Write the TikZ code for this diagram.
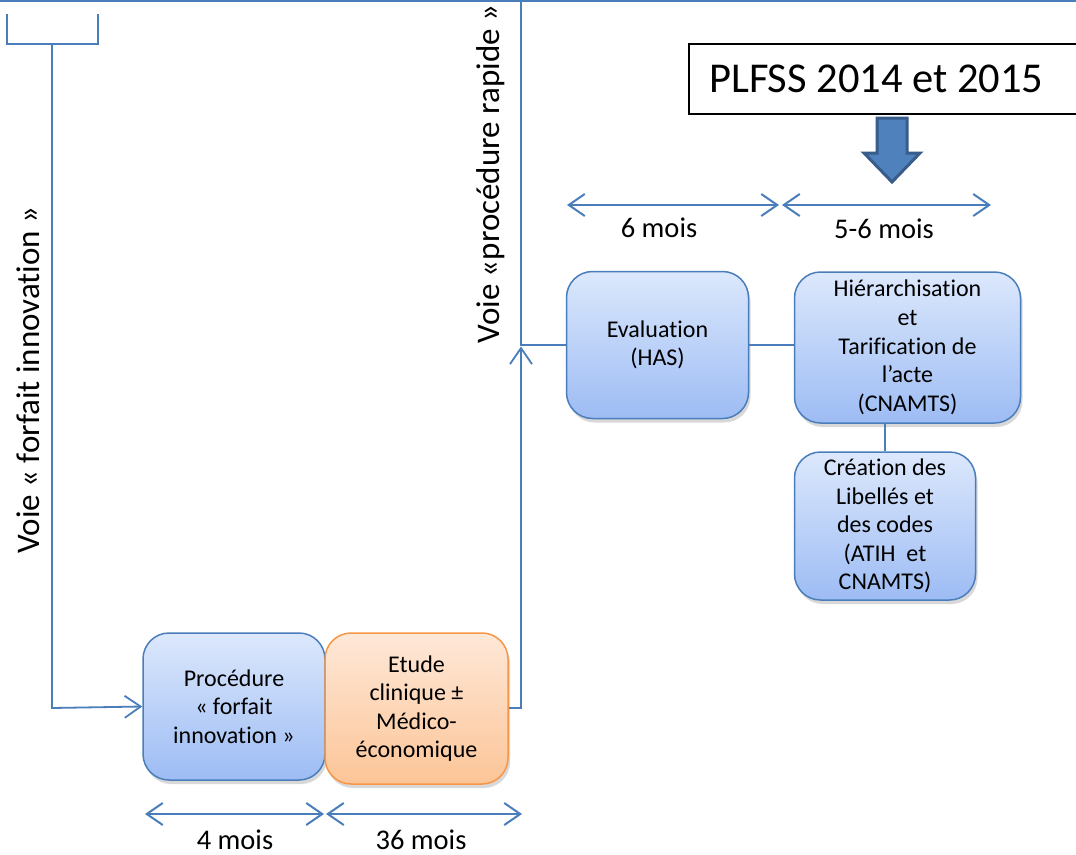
\documentclass[tikz,border=0pt]{standalone}
\usepackage{fontspec}
\setmainfont{Carlito}[Ligatures=NoCommon]
\usetikzlibrary{arrows.meta,shadows}
\definecolor{lineblue}{HTML}{4A7EBB}
\definecolor{boxtop}{HTML}{DCE8FC}
\definecolor{boxbot}{HTML}{9DBCF4}
\definecolor{orgtop}{HTML}{FEE8D8}
\definecolor{orgbot}{HTML}{FCC597}
\definecolor{orgline}{HTML}{F79646}
\definecolor{arrowfill}{HTML}{4F81BD}
\definecolor{arrowline}{HTML}{385D8A}
\tikzset{
  roundbox/.style={line width=1.5pt, rounded corners=26pt, align=center,
    font=\fontsize{24}{28.6}\selectfont, inner sep=0pt,
    drop shadow={opacity=0.3, shadow xshift=2pt, shadow yshift=-4pt}},
  bluebox/.style={roundbox, draw=lineblue, top color=boxtop, bottom color=boxbot},
  orangebox/.style={roundbox, draw=orgline, top color=orgtop, bottom color=orgbot},
  conn/.style={draw=lineblue, line width=1.8pt},
  barb/.style={-{Straight Barb[length=16pt,width=22pt,line width=1.8pt]}},
  dbl/.style={draw=lineblue, line width=2pt,
    {Straight Barb[length=16pt,width=22pt,line width=2pt]}-{Straight Barb[length=16pt,width=22pt,line width=2pt]}},
  dur/.style={font=\fontsize{28.5}{32}\selectfont, anchor=base},
  voie/.style={font=\fontsize{33}{38}\selectfont, rotate=90},
}
\begin{document}
\begin{tikzpicture}[x=1pt,y=-1pt]
\useasboundingbox (0,0) rectangle (1076,854);
\clip (0,0) rectangle (1076,854);
\fill[white] (0,0) rectangle (1076,854);

% boxes
\node[bluebox, minimum width=182, minimum height=147] (proc) at (234,706.5)
  {Procédure\\« forfait\\innovation »};
\node[orangebox, minimum width=183, minimum height=151] (etude) at (416.5,708.5)
  {Etude\\clinique ±\\Médico-\\économique};
\node[bluebox, minimum width=182, minimum height=147] (eval) at (657.5,345)
  {Evaluation\\(HAS)};
\node[bluebox, minimum width=226, minimum height=151] (hier) at (907.5,347.5)
  {Hiérarchisation\\et\\Tarification de\\l’acte\\(CNAMTS)};
\node[bluebox, minimum width=181, minimum height=148] (crea) at (885,526)
  {Création des\\Libellés et\\des codes\\(ATIH\ \ et\\CNAMTS)};

% PLFSS box
\node[draw=black, line width=1.6pt, fill=white, anchor=west, inner sep=0pt,
  minimum width=400pt, minimum height=70pt] (plfss) at (688,79) {};
\node[anchor=west, inner sep=0pt, font=\fontsize{42.5}{50}\selectfont]
  (plfsstext) at (709,79) {PLFSS 2014 et 2015};

% block arrow
\filldraw[fill=arrowfill, draw=arrowline, line width=3pt, line join=miter]
  (877,118) -- (907,118) -- (907,153) -- (920,153) -- (892,182) -- (864,153) -- (877,153) -- cycle;

% top line and bracket
\coordinate (tl) at (0,1);
\coordinate (tr) at (1076,1);
\draw[conn] (tl) -- (tr);
\coordinate (brA) at (7,14);
\coordinate (brB) at (7,44);
\coordinate (brC) at (98,44);
\coordinate (brD) at (98,14);
\draw[conn] (brA) -- (brB) -- (brC) -- (brD);
\coordinate (stemTop) at (52,44);
\coordinate (stemBot) at (52,708);
\draw[conn, barb] (stemTop) -- (stemBot) -- (proc.west);

% procédure rapide path
\coordinate (rTop) at (521,0);
\coordinate (rMid) at (521,345);
\coordinate (rBot) at (521,708);
\draw[conn] (rTop) -- (rMid) -- (eval.west |- rMid);
\draw[conn, barb] (etude.east |- rBot) -- (rBot) -- (521,346.5);

% other connectors
\draw[conn] (eval.east) -- (hier.west |- eval.east);
\draw[conn] (crea.north |- hier.south) -- (crea.north);

% vertical labels
\node[voie] (vfi) at (28,380) {Voie « forfait innovation »};
\node[voie] (vpr) at (491,174) {Voie «procédure rapide »};

% duration arrows
\coordinate (a1) at (567,205); \coordinate (a2) at (779,205);
\coordinate (a3) at (782,205); \coordinate (a4) at (991,205);
\draw[dbl] (a1) -- (a2);
\draw[dbl] (a3) -- (a4);
\node[dur] (d6) at (659,237) {6 mois};
\node[dur] (d56) at (884,238) {5-6 mois};
\coordinate (b1) at (145,814); \coordinate (b2) at (324,814);
\coordinate (b3) at (326,814); \coordinate (b4) at (522,814);
\draw[dbl] (b1) -- (b2);
\draw[dbl] (b3) -- (b4);
\node[dur] (d4) at (235,849) {4 mois};
\node[dur] (d36) at (421,849) {36 mois};
\end{tikzpicture}
\end{document}
